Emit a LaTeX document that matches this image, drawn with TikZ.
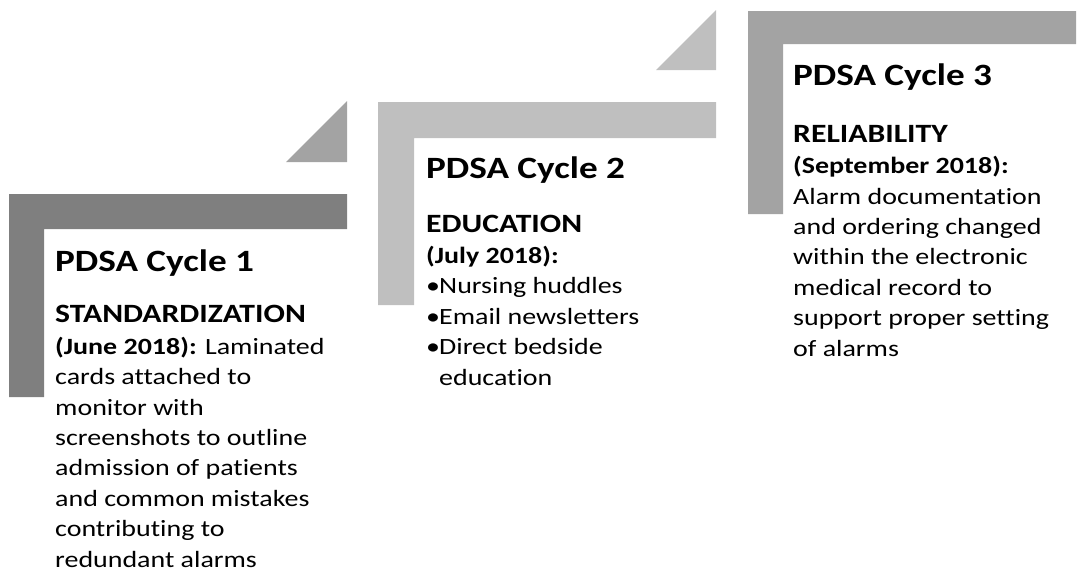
\documentclass[tikz,border=0pt]{standalone}
\usepackage{fontspec}
\setmainfont{Carlito}[FakeStretch=1.2, Ligatures=NoCommon]
\usepackage{tikz}
\usetikzlibrary{positioning}

\definecolor{stepdark}{HTML}{7F7F7F}
\definecolor{stepmid}{HTML}{A3A3A3}
\definecolor{steplight}{HTML}{BFBFBF}

\begin{document}
\begin{tikzpicture}[
  x=1pt, y=-1pt,
  title/.style={anchor=base west, inner sep=0pt, font=\fontsize{31}{37}\selectfont\bfseries},
  heading/.style={anchor=base west, inner sep=0pt, font=\fontsize{26.4}{31}\selectfont\bfseries},
  % body blocks sit on the baseline of their last line
  body/.style={anchor=base west, inner sep=0pt, align=left,
    font=\fontsize{23.3}{30.4}\selectfont}
]
\useasboundingbox (0,0) rectangle (1077,574);

% stair steps
\fill[stepdark] (9,194) -- (347,194) -- (347,229) -- (44,229) -- (44,397) -- (9,397) -- cycle;
\fill[stepmid] (286,162) -- (347,101) -- (347,162) -- cycle;
\fill[steplight] (378,102) -- (716,102) -- (716,138) -- (414,138) -- (414,305) -- (378,305) -- cycle;
\fill[steplight] (656,70) -- (716,10) -- (716,70) -- cycle;
\fill[stepmid] (748,11) -- (1076,11) -- (1076,44) -- (783,44) -- (783,214) -- (748,214) -- cycle;

% cycle 1
\node[title] (title1) at (55,271) {PDSA Cycle 1};
\node[heading] (head1) at (55,322) {STANDARDIZATION};
\node[body] (text1) at (55,567) {\textbf{(June 2018):} Laminated\\
  cards attached to\\
  monitor with\\
  screenshots to outline\\
  admission of patients\\
  and common mistakes\\
  contributing to\\
  redundant alarms};

% cycle 2
\node[title] (title2) at (426,178) {PDSA Cycle 2};
\node[heading] (head2) at (426,232) {EDUCATION};
\node[body] (text2) at (426,385) {\textbf{(July 2018):}\\
  \makebox[13pt][l]{\textbullet}Nursing huddles\\
  \makebox[13pt][l]{\textbullet}Email newsletters\\
  \makebox[13pt][l]{\textbullet}Direct bedside\\
  \hspace*{13pt}education};

% cycle 3
\node[title] (title3) at (793,85) {PDSA Cycle 3};
\node[heading] (head3) at (793,142) {RELIABILITY};
\node[body] (text3) at (793,356) {\textbf{(September 2018):}\\
  Alarm documentation\\
  and ordering changed\\
  within the electronic\\
  medical record to\\
  support proper setting\\
  of alarms};
\end{tikzpicture}
\end{document}
